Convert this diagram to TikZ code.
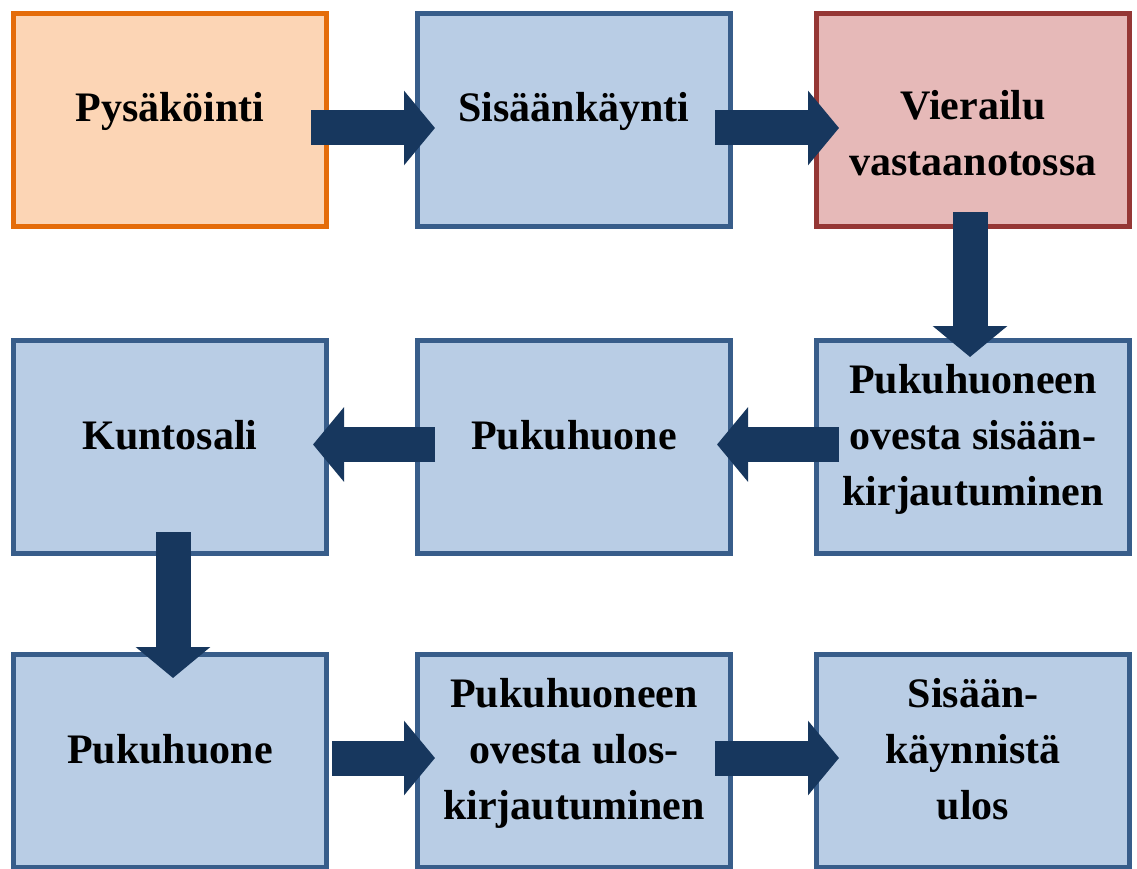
\documentclass[tikz,border=0pt]{standalone}
\usepackage{fontspec}
\setmainfont{Liberation Serif}
\usetikzlibrary{positioning,arrows.meta}
\definecolor{orangeline}{HTML}{E46C0A}
\definecolor{orangefill}{HTML}{FCD5B5}
\definecolor{blueline}{HTML}{385D8A}
\definecolor{bluefill}{HTML}{B9CDE5}
\definecolor{redline}{HTML}{953735}
\definecolor{redfill}{HTML}{E6B9B8}
\definecolor{arrowblue}{HTML}{17375E}

\begin{document}
\begin{tikzpicture}
[x=1pt, y=1pt,
box/.style={rectangle, draw=blueline, fill=bluefill, line width=5pt,
minimum width=313pt, minimum height=213pt, inner sep=0pt, align=center,
font=\fontsize{42}{56}\selectfont\bfseries, text height=30pt, text depth=26pt},
threeline/.style={text height=142pt},
flow/.style={draw=arrowblue, line width=35pt, -{Triangle[length=31pt,width=73pt]},
shorten <=-18pt, shorten >=-20pt}]

\useasboundingbox (0,0) rectangle (1137,-869);

% Draw boxes
\node [box, draw=orangeline, fill=orangefill] (parking) at (170,-120) {Pysäköinti};
\node [box, right=86pt of parking] (entrance) {Sisäänkäynti};
\node [box, draw=redline, fill=redfill, text height=142pt, text depth=30pt, right=81pt of entrance] (reception) {Vierailu\\vastaanotossa};
\node [box, threeline, below=109pt of reception] (checkin) {Pukuhuoneen\\ovesta sisään-\\kirjautuminen};
\node [box, left=81pt of checkin] (lockerin) {Pukuhuone};
\node [box, left=86pt of lockerin] (gym) {Kuntosali};
\node [box, below=96pt of gym] (lockerout) {Pukuhuone};
\node [box, threeline, right=86pt of lockerout] (checkout) {Pukuhuoneen\\ovesta ulos-\\kirjautuminen};
\node [box, threeline, right=81pt of checkout] (exit) {Sisään-\\käynnistä\\ulos};

% Draw arrows
\draw [flow] ([yshift=-8pt]parking.east) -- ([yshift=-8pt]entrance.west);
\draw [flow, shorten >=-25pt] ([yshift=-8pt]entrance.east) -- ([yshift=-8pt]reception.west);
\draw [flow, shorten <=-17pt, shorten >=-19pt] ([xshift=-3pt]reception.south) -- ([xshift=-3pt]checkin.north);
\draw [flow, shorten <=-25pt, shorten >=-16pt] ([yshift=2.5pt]checkin.west) -- ([yshift=2.5pt]lockerin.east);
\draw [flow, shorten <=-20pt, shorten >=-16pt] ([yshift=2.5pt]lockerin.west) -- ([yshift=2.5pt]gym.east);
\draw [flow, shorten <=-24pt, shorten >=-26pt] ([xshift=3pt]gym.south) -- ([xshift=3pt]lockerout.north);
\draw [flow, shorten <=3pt] ([yshift=3pt]lockerout.east) -- ([yshift=3pt]checkout.west);
\draw [flow, shorten >=-25pt] ([yshift=3pt]checkout.east) -- ([yshift=3pt]exit.west);

\end{tikzpicture}
\end{document}
